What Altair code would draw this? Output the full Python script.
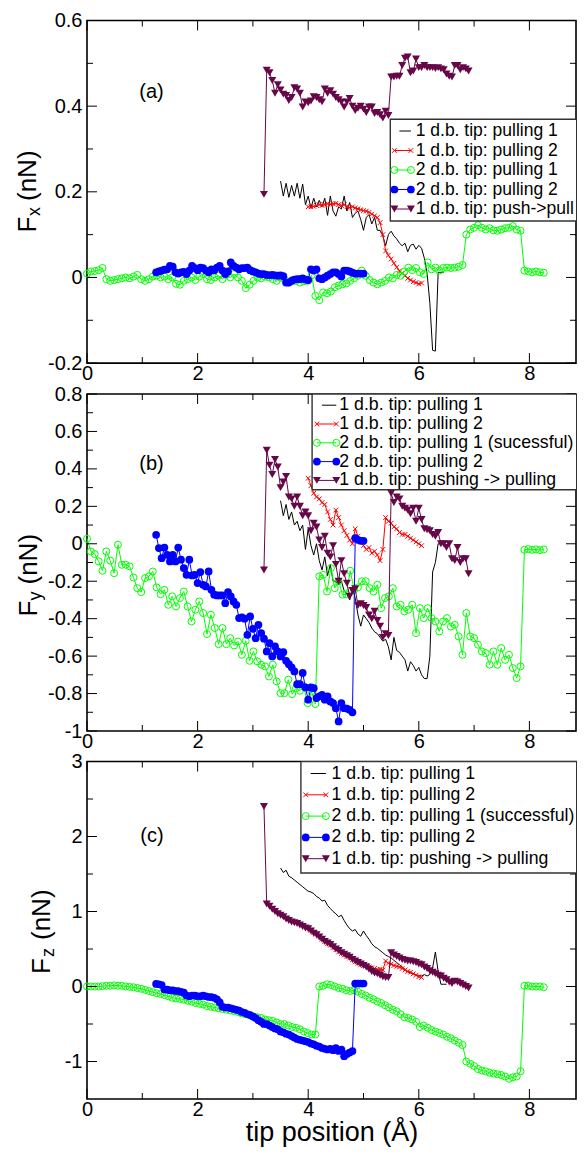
import altair as alt
import pandas as pd

FONT = "Liberation Sans"

# ---------------- data ----------------
# 2 d.b. tip: pulling 1  (green, open circles), x from 0.00 step 0.07
GREEN_X0, GREEN_DX = 0.0, 0.07
GREEN_FX = [0.009, 0.014, 0.015, 0.017, 0.022, -0.004, -0.008, -0.006, -0.004, -0.002,
            0.0, -0.002, 0.002, 0.006, -0.004, -0.008, -0.004, 0.002, 0.004, 0.0,
            0.002, -0.004, 0.0, -0.015, -0.017, -0.008, -0.004, 0.0, -0.006, 0.002,
            0.008, -0.004, -0.006, 0.0, 0.004, -0.004, 0.006, 0.0, 0.008, 0.0,
            -0.008, -0.025, -0.017, -0.008, 0.0, -0.002, 0.002, 0.0, -0.004, -0.008,
            0.0, -0.004, -0.012, -0.006, -0.008, -0.012, -0.009, -0.008, 0.005, -0.043,
            -0.053, -0.035, -0.037, -0.033, -0.023, -0.019, -0.016, -0.014, -0.008, -0.002,
            0.004, 0.016, 0.004, -0.006, -0.012, -0.016, -0.012, -0.008, 0.0, -0.002,
            0.006, 0.004, 0.014, 0.023, 0.017, 0.022, 0.012, 0.008, 0.035, 0.019,
            0.023, 0.016, 0.022, 0.023, 0.022, 0.023, 0.025, 0.029, 0.1, 0.112,
            0.116, 0.122, 0.116, 0.112, 0.115, 0.11, 0.109, 0.112, 0.115, 0.116,
            0.12, 0.112, 0.109, 0.016, 0.014, 0.012, 0.014, 0.012, 0.011]
GREEN_FY = [0.027, -0.041, -0.055, -0.094, -0.144, -0.041, -0.09, -0.157, -0.005, -0.112,
            -0.112, -0.121, -0.18, -0.237, -0.258, -0.183, -0.174, -0.148, -0.233, -0.269,
            -0.246, -0.326, -0.281, -0.335, -0.29, -0.255, -0.335, -0.415, -0.352, -0.308,
            -0.37, -0.482, -0.379, -0.45, -0.536, -0.45, -0.536, -0.504, -0.543, -0.522,
            -0.593, -0.518, -0.625, -0.575, -0.628, -0.646, -0.655, -0.709, -0.646, -0.735,
            -0.798, -0.798, -0.726, -0.803, -0.771, -0.785, -0.762, -0.851, -0.789, -0.856,
            -0.174, -0.166, -0.255, -0.13, -0.237, -0.2, -0.272, -0.27, -0.144, -0.246,
            -0.233, -0.2, -0.2, -0.237, -0.255, -0.219, -0.344, -0.29, -0.281, -0.237,
            -0.335, -0.326, -0.361, -0.352, -0.326, -0.477, -0.344, -0.397, -0.344, -0.397,
            -0.415, -0.468, -0.415, -0.397, -0.442, -0.433, -0.495, -0.593, -0.37, -0.495,
            -0.504, -0.539, -0.575, -0.584, -0.646, -0.575, -0.646, -0.557, -0.62, -0.593,
            -0.664, -0.717, -0.655, -0.032, -0.028, -0.032, -0.03, -0.034, -0.03]
GREEN_FZ = [0.0, 0.0, 0.0, 0.0, 0.005, 0.01, 0.01, 0.015, 0.01, 0.01,
            0.0, -0.005, -0.01, -0.02, -0.03, -0.045, -0.06, -0.075, -0.09, -0.1,
            -0.115, -0.13, -0.15, -0.16, -0.165, -0.175, -0.19, -0.2, -0.22, -0.23,
            -0.24, -0.26, -0.27, -0.28, -0.29, -0.3, -0.31, -0.32, -0.33, -0.34,
            -0.36, -0.37, -0.38, -0.4, -0.41, -0.42, -0.44, -0.45, -0.46, -0.48,
            -0.5, -0.5, -0.52, -0.54, -0.55, -0.57, -0.6, -0.62, -0.64, -0.64,
            0.0, 0.01, 0.03, 0.02, 0.0, -0.02, -0.03, -0.05, -0.06, -0.05,
            -0.07, -0.1, -0.12, -0.15, -0.17, -0.2, -0.22, -0.25, -0.28, -0.31,
            -0.33, -0.37, -0.41, -0.42, -0.44, -0.47, -0.54, -0.52, -0.55, -0.58,
            -0.6, -0.62, -0.64, -0.67, -0.69, -0.72, -0.75, -0.78, -1.0, -1.03,
            -1.06, -1.1, -1.12, -1.13, -1.15, -1.16, -1.17, -1.18, -1.2, -1.23,
            -1.21, -1.2, -1.13, 0.01, 0.01, 0.0, 0.0, 0.0, -0.01]

# 2 d.b. tip: pulling 2 (blue, filled circles), x from 1.25 step 0.05
BLUE_X0, BLUE_DX = 1.25, 0.05
BLUE_FX = [0.012, 0.014, 0.016, 0.018, 0.019, 0.027, 0.025, 0.012, 0.009, 0.012,
           0.013, 0.008, 0.016, 0.027, 0.022, 0.017, 0.023, 0.022, 0.016, 0.012,
           0.019, 0.017, 0.023, 0.027, 0.016, 0.008, 0.014, 0.035, 0.027, 0.023,
           0.019, 0.022, 0.022, 0.023, 0.017, 0.014, 0.012, 0.009, 0.008, 0.008,
           0.006, 0.005, 0.006, 0.005, 0.004, 0.005, 0.003, -0.012, -0.012, -0.008,
           -0.005, -0.004, -0.004, -0.002, -0.005, -0.006, 0.019, 0.016, 0.019, -0.002,
           -0.004, 0.0, 0.004, 0.008, 0.012, 0.012, 0.008, 0.002, 0.016, 0.016,
           0.014, 0.011, 0.009, 0.009, 0.009, 0.009]
BLUE_FY = [0.048, -0.023, -0.077, -0.02, -0.059, -0.094, -0.059, -0.094, -0.02, -0.085,
           -0.13, -0.166, -0.085, -0.169, -0.166, -0.21, -0.151, -0.219, -0.228, -0.148,
           -0.246, -0.272, -0.276, -0.276, -0.276, -0.317, -0.258, -0.281, -0.308, -0.326,
           -0.397, -0.393, -0.4, -0.486, -0.388, -0.454, -0.504, -0.433, -0.477, -0.507,
           -0.575, -0.531, -0.602, -0.548, -0.575, -0.602, -0.579, -0.625, -0.643, -0.66,
           -0.682, -0.75, -0.75, -0.69, -0.767, -0.833, -0.767, -0.771, -0.824, -0.815,
           -0.807, -0.833, -0.815, -0.842, -0.851, -0.878, -0.949, -0.851, -0.878, -0.88,
           -0.887, -0.9, 0.03, 0.021, 0.016, 0.016]
BLUE_FZ = [0.035, 0.03, 0.02, -0.04, -0.04, -0.05, -0.05, -0.06, -0.06, -0.07,
           -0.08, -0.12, -0.13, -0.12, -0.12, -0.13, -0.13, -0.12, -0.13, -0.14,
           -0.14, -0.15, -0.17, -0.21, -0.27, -0.28, -0.28, -0.29, -0.3, -0.31,
           -0.32, -0.34, -0.35, -0.37, -0.38, -0.4, -0.42, -0.45, -0.47, -0.5,
           -0.5, -0.52, -0.54, -0.56, -0.57, -0.6, -0.61, -0.63, -0.64, -0.66,
           -0.68, -0.7, -0.71, -0.72, -0.73, -0.74, -0.76, -0.77, -0.79, -0.8,
           -0.82, -0.83, -0.84, -0.83, -0.85, -0.82, -0.86, -0.84, -0.93, -0.9,
           -0.88, -0.86, 0.04, 0.04, 0.04, 0.04]

# 1 d.b. tip: pulling 2 (red, x markers), x from 4.00 step 0.05
RED_X0, RED_DX = 4.0, 0.05
RED_FX = [0.165, 0.165, 0.166, 0.168, 0.17, 0.168, 0.17, 0.172, 0.171, 0.172,
          0.173, 0.17, 0.168, 0.17, 0.165, 0.163, 0.165, 0.162, 0.16, 0.158,
          0.156, 0.155, 0.152, 0.148, 0.144, 0.14, 0.128, 0.1, 0.062, 0.052,
          0.043, 0.033, 0.024, 0.015, 0.01, 0.004, -0.002, -0.006, -0.01, -0.012,
          -0.015, -0.013]
RED_FY = [0.35, 0.31, 0.27, 0.25, 0.24, 0.22, 0.21, 0.17, 0.13, 0.1,
          0.18, 0.14, 0.1, 0.07, 0.045, 0.02, 0.0, 0.08, 0.04, 0.01,
          -0.01, -0.03, -0.02, -0.05, -0.04, -0.06, -0.09, -0.03, 0.14, 0.12,
          0.11, 0.09, 0.08, 0.06, 0.05, 0.05, 0.04, 0.03, 0.02, 0.01,
          0.0, -0.01]
RED_FZ = [0.78, 0.75, 0.72, 0.7, 0.67, 0.63, 0.6, 0.57, 0.55, 0.52,
          0.49, 0.46, 0.44, 0.42, 0.4, 0.38, 0.36, 0.33, 0.31, 0.29,
          0.28, 0.28, 0.26, 0.25, 0.24, 0.23, 0.23, 0.22, 0.34, 0.31,
          0.3, 0.28, 0.27, 0.26, 0.24, 0.22, 0.2, 0.19, 0.17, 0.15,
          0.13, 0.12]

# 1 d.b. tip: pushing -> pulling (maroon, triangles), x from 3.20 step 0.05
MAROON_X0, MAROON_DX = 3.2, 0.05
MAROON_FX = [0.194, 0.484, 0.478, 0.46, 0.43, 0.45, 0.438, 0.428, 0.425, 0.413,
             0.42, 0.443, 0.44, 0.43, 0.398, 0.41, 0.408, 0.412, 0.422, 0.42,
             0.415, 0.41, 0.44, 0.43, 0.436, 0.428, 0.42, 0.415, 0.41, 0.398,
             0.41, 0.418, 0.4, 0.39, 0.395, 0.4, 0.393, 0.385, 0.398, 0.398,
             0.383, 0.385, 0.38, 0.372, 0.388, 0.378, 0.468, 0.468, 0.47, 0.47,
             0.495, 0.512, 0.515, 0.478, 0.482, 0.51, 0.49, 0.49, 0.495, 0.49,
             0.49, 0.49, 0.488, 0.49, 0.487, 0.485, 0.475, 0.47, 0.468, 0.495,
             0.495, 0.485, 0.49, 0.487, 0.482]
MAROON_FY = [-0.14, 0.5, 0.42, 0.37, 0.45, 0.41, 0.3, 0.33, 0.36, 0.25,
             0.24, 0.2, 0.25, 0.2, 0.15, 0.17, 0.15, 0.07, 0.11, 0.09,
             0.02, -0.02, 0.04, -0.05, -0.07, -0.01, -0.11, -0.2, -0.09, -0.16,
             -0.21, -0.28, -0.25, -0.24, -0.33, -0.32, -0.33, -0.34, -0.38, -0.4,
             -0.36, -0.41, -0.44, -0.5, -0.48, -0.49, 0.27, 0.22, 0.25, 0.24,
             0.2, 0.19, 0.18, 0.16, 0.19, 0.12, 0.19, 0.13, 0.08, 0.075,
             0.07, 0.05, 0.04, 0.06, 0.0, 0.0, -0.02, 0.0, -0.08, -0.09,
             -0.02, -0.1, -0.08, -0.08, -0.16]
MAROON_FZ = [2.4, 1.1, 1.07, 1.03, 1.0, 0.97, 0.95, 0.93, 0.9, 0.88,
             0.86, 0.85, 0.84, 0.82, 0.8, 0.78, 0.77, 0.74, 0.71, 0.69,
             0.66, 0.63, 0.6, 0.58, 0.56, 0.53, 0.5, 0.48, 0.45, 0.43,
             0.41, 0.39, 0.36, 0.34, 0.32, 0.3, 0.28, 0.26, 0.23, 0.2,
             0.18, 0.17, 0.15, 0.13, 0.12, 0.12, 0.45, 0.42, 0.4, 0.38,
             0.36, 0.35, 0.34, 0.34, 0.33, 0.32, 0.3, 0.29, 0.26, 0.24,
             0.21, 0.19, 0.17, 0.15, 0.14, 0.11, 0.09, 0.06, 0.04, 0.07,
             0.06, 0.04, 0.02, 0.0, -0.02]

# 1 d.b. tip: pulling 1 (black line), x from 3.50 step 0.05
BLACK_X0, BLACK_DX = 3.5, 0.05
BLACK_FX = [0.225, 0.19, 0.22, 0.187, 0.215, 0.19, 0.22, 0.185, 0.218, 0.17,
            0.19, 0.162, 0.185, 0.165, 0.18, 0.165, 0.185, 0.145, 0.19, 0.155,
            0.143, 0.165, 0.16, 0.19, 0.155, 0.175, 0.14, 0.15, 0.155, 0.135,
            0.11, 0.14, 0.147, 0.125, 0.14, 0.11, 0.11, 0.097, 0.074, 0.1,
            0.108, 0.097, 0.09, 0.08, 0.074, 0.08, 0.06, 0.075, 0.078, 0.066,
            0.075, 0.068, 0.045, 0.01, -0.06, -0.17, -0.172, 0.012, 0.012, 0.012]
BLACK_FY = [0.23, 0.15, 0.21, 0.13, 0.17, 0.1, 0.12, 0.07, 0.1, -0.03,
            0.08, -0.01, -0.06, 0.0, -0.09, -0.14, -0.07, -0.17, -0.11, -0.2,
            -0.2, -0.22, -0.2, -0.25, -0.27, -0.3, -0.24, -0.29, -0.38, -0.44,
            -0.38, -0.4, -0.42, -0.45, -0.47, -0.48, -0.5, -0.52, -0.51, -0.55,
            -0.62, -0.5, -0.57, -0.58, -0.6, -0.62, -0.68, -0.63, -0.65, -0.68,
            -0.66, -0.7, -0.72, -0.72, -0.6, -0.15, -0.1, 0.0, 0.0]
BLACK_FZ = [1.58, 1.52, 1.55, 1.47, 1.45, 1.42, 1.39, 1.36, 1.33, 1.3,
            1.27, 1.26, 1.24, 1.2, 1.18, 1.14, 1.15, 1.08, 1.04, 1.0,
            0.97, 0.93, 0.95, 0.88, 0.82, 0.77, 0.74, 0.76, 0.7, 0.67,
            0.74, 0.68, 0.63, 0.57, 0.53, 0.51, 0.48, 0.45, 0.42, 0.4,
            0.38, 0.35, 0.32, 0.29, 0.26, 0.23, 0.2, 0.18, 0.17, 0.15,
            0.15, 0.14, 0.16, 0.14, 0.16, 0.25, 0.46, 0.2, 0.03, 0.03, 0.03]

# axis ticks / labels
X_LABELS = [0, 2, 4, 6, 8]
X_MINOR = [1, 3, 5, 7]
YA_LABELS = [-0.2, 0, 0.2, 0.4, 0.6]
YA_MINOR = [-0.1, 0.1, 0.3, 0.5]
YB_LABELS = [-1, -0.8, -0.6, -0.4, -0.2, 0, 0.2, 0.4, 0.6, 0.8]
YB_MINOR = [-0.9, -0.7, -0.5, -0.3, -0.1, 0.1, 0.3, 0.5, 0.7]
YC_LABELS = [-1, 0, 1, 2, 3]
YC_MINOR = [-0.5, 0.5, 1.5, 2.5]

LEG_A = ["1 d.b. tip: pulling 1", "1 d.b. tip: pulling 2", "2 d.b. tip: pulling 1",
         "2 d.b. tip: pulling 2", "1 d.b. tip: push->pull"]
LEG_B = ["1 d.b. tip: pulling 1", "1 d.b. tip: pulling 2", "2 d.b. tip: pulling 1 (sucessful)",
         "2 d.b. tip: pulling 2", "1 d.b. tip: pushing -> pulling"]
LEG_C = ["1 d.b. tip: pulling 1", "1 d.b. tip: pulling 2", "2 d.b. tip: pulling 1 (successful)",
         "2 d.b. tip: pulling 2", "1 d.b. tip: pushing -> pulling"]
TAGS = ["(a)", "(b)", "(c)"]
Y_MAIN, Y_SUBS, Y_UNIT = "F", ["x", "y", "z"], "(nN)"
X_TITLE = "tip position (Å)"

# ---------------- styles / layout ----------------
MAROON = "#670748"
XSHAPE = "M-1,-1L1,1M-1,1L1,-1"
STYLES = [
    dict(color="black", point=None),
    dict(color="#ff0000", point=dict(shape=XSHAPE, filled=False, size=22, strokeWidth=1)),
    dict(color="#00ff00", point=dict(shape="circle", filled=False, size=49, strokeWidth=1)),
    dict(color="#0000ff", point=dict(shape="circle", filled=True, size=60)),
    dict(color=MAROON, point=dict(shape="triangle-down", filled=True, size=64)),
]
PX_PER_UNIT = 55.3          # horizontal scale of the reference
W = 489                     # plot width (right part of the frame cropped like the page edge)
X_MAX = round(W / PX_PER_UNIT, 4)


def grid(x0, dx, n):
    return [round(x0 + i * dx, 3) for i in range(n)]


def axes(ylabels, xtitle):
    xkw = dict(values=X_LABELS, labelFlush=False, labelOverlap=False, ticks=False, tickSize=0,
               domain=False, grid=False, labelPadding=0.5, labelFontSize=20, labelFont=FONT,
               labelColor="black")
    if xtitle:
        xkw.update(title=xtitle, titleFontSize=27, titleFont=FONT, titleFontWeight="normal",
                   titleColor="black", titleY=41.9, titleBaseline="alphabetic")
    else:
        xkw.update(title=None)
    yax = alt.Axis(values=ylabels, title=None, ticks=False, tickSize=0, domain=False, grid=False,
                   labelPadding=5, labelFontSize=20, labelFont=FONT, labelColor="black",
                   labelOverlap=False,
                   labelExpr="datum.value < 0 ? '-' + format(-datum.value, '') : format(datum.value, '')")
    return alt.Axis(**xkw), yax


def panel(series, ydom, ylabels, yminor, H, xtitle, legend_labels, lg, sub, tpos, tag, tagpos):
    xs = alt.Scale(domain=[0, X_MAX], nice=False, zero=False)
    ys = alt.Scale(domain=ydom, nice=False, zero=False)
    xax, yax = axes(ylabels, xtitle)
    X = lambda f: alt.X(f, scale=xs, axis=xax)
    Y = lambda f: alt.Y(f, scale=ys, axis=yax)
    layers = []
    for (x0, dx, vals), st in zip(series, STYLES):
        df = pd.DataFrame({"x": grid(x0, dx, len(vals)), "y": vals})
        layers.append(alt.Chart(df).mark_line(color=st["color"], strokeWidth=1)
                      .encode(x=X("x:Q"), y=Y("y:Q")))
        if st["point"]:
            layers.append(alt.Chart(df).mark_point(color=st["color"], opacity=1, **st["point"])
                          .encode(x=X("x:Q"), y=Y("y:Q")))
    # inward ticks on all four sides
    for vals, ln in ((X_LABELS, 10), (X_MINOR, 6)):
        d = pd.DataFrame({"v": vals})
        for ya, yb in ((H, H - ln), (0, ln)):
            layers.append(alt.Chart(d).mark_rule(color="black", strokeWidth=1)
                          .encode(x=X("v:Q"), y=alt.value(ya), y2=alt.value(yb)))
    for vals, ln in ((ylabels, 10), (yminor, 6)):
        d = pd.DataFrame({"v": vals})
        for xa, xb in ((0, ln), (W, W - ln)):
            layers.append(alt.Chart(d).mark_rule(color="black", strokeWidth=1)
                          .encode(y=Y("v:Q"), x=alt.value(xa), x2=alt.value(xb)))
    # legend box (clipped by the right frame, as in the cropped original)
    one = pd.DataFrame({"k": [0]})
    bx0, by0, by1, row0, drow, m1, m2, tx, fs = lg
    layers.append(alt.Chart(one).mark_rect(fill="white", stroke="#333333", strokeWidth=1.4, clip=True)
                  .encode(x=alt.value(bx0), x2=alt.value(W + 3), y=alt.value(by0), y2=alt.value(by1)))
    for i, (lab, st) in enumerate(zip(legend_labels, STYLES)):
        yy = row0 + drow * i
        d = pd.DataFrame({"label": [lab]})
        layers.append(alt.Chart(d).mark_rule(color=st["color"], strokeWidth=1)
                      .encode(x=alt.value(m1 if st["point"] else m1 + 5), x2=alt.value(m2),
                              y=alt.value(yy)))
        if st["point"]:
            for mx in (m1, m2):
                layers.append(alt.Chart(d).mark_point(color=st["color"], opacity=1, **st["point"])
                              .encode(x=alt.value(mx), y=alt.value(yy)))
        layers.append(alt.Chart(d).mark_text(align="left", baseline="middle", fontSize=fs,
                                             font=FONT, color="black", clip=True)
                      .encode(x=alt.value(tx), y=alt.value(yy), text="label:N"))
    # y title  F_sub (nN), rotated
    bx, yF, ySub, yUnit = tpos
    for txt, size, xx, yy in ((Y_MAIN, 26, bx, yF), (sub, 18, bx + 4, ySub), (Y_UNIT, 26, bx, yUnit)):
        layers.append(alt.Chart(pd.DataFrame({"t": [txt]}))
                      .mark_text(angle=270, align="left", baseline="alphabetic", fontSize=size,
                                 font=FONT, color="black")
                      .encode(x=alt.value(xx), y=alt.value(yy), text="t:N"))
    layers.append(alt.Chart(pd.DataFrame({"t": [tag]}))
                  .mark_text(align="center", baseline="middle", fontSize=20, font=FONT, color="black")
                  .encode(x=alt.value(tagpos[0]), y=alt.value(tagpos[1]), text="t:N"))
    return alt.layer(*layers).properties(width=W, height=H)


HA, HB, HC = 342.6, 337, 337.5
pa = panel([(BLACK_X0, BLACK_DX, BLACK_FX), (RED_X0, RED_DX, RED_FX), (GREEN_X0, GREEN_DX, GREEN_FX),
            (BLUE_X0, BLUE_DX, BLUE_FX), (MAROON_X0, MAROON_DX, MAROON_FX)],
           [-0.2, 0.6], YA_LABELS, YA_MINOR, HA, None, LEG_A,
           (303.3, 98.8, 200.5, 110.5, 19.5, 307.4, 323.9, 328.7, 17.5),
           Y_SUBS[0], (-50.7, 212.0, 195.5, 180.5), TAGS[0], (64.5, 71.3))
pb = panel([(BLACK_X0, BLACK_DX, BLACK_FY), (RED_X0, RED_DX, RED_FY), (GREEN_X0, GREEN_DX, GREEN_FY),
            (BLUE_X0, BLUE_DX, BLUE_FY), (MAROON_X0, MAROON_DX, MAROON_FY)],
           [-1, 0.8], YB_LABELS, YB_MINOR, HB, None, LEG_B,
           (225.1, 0, 95.8, 11.2, 18.8, 229.9, 249.3, 252.3, 17.7),
           Y_SUBS[1], (-50.3, 222.5, 206.5, 190.5), TAGS[1], (64.5, 69.5))
pc = panel([(BLACK_X0, BLACK_DX, BLACK_FZ), (RED_X0, RED_DX, RED_FZ), (GREEN_X0, GREEN_DX, GREEN_FZ),
            (BLUE_X0, BLUE_DX, BLUE_FZ), (MAROON_X0, MAROON_DX, MAROON_FZ)],
           [-1.5, 3], YC_LABELS, YC_MINOR, HC, X_TITLE, LEG_C,
           (213.9, 0, 111.5, 12, 21.3, 218.7, 238.9, 244.5, 17.7),
           Y_SUBS[2], (-37.3, 212.5, 195.5, 178.5), TAGS[2], (65, 74.2))

chart = (alt.vconcat(pa, pb, pc, spacing=30.5, bounds="flush")
         .properties(padding={"left": 6, "top": 1.5, "right": 0, "bottom": 0})
         .configure_view(stroke="black", strokeWidth=1.6)
         .configure_text(font=FONT))

chart.save("out.html", embed_options={"renderer": "svg", "actions": False})
